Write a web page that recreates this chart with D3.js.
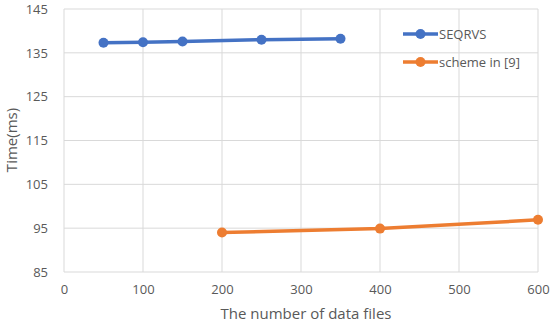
<!DOCTYPE html>
<html>
<head>
<meta charset="utf-8">
<script src="https://cdn.jsdelivr.net/npm/d3@7"></script>
<style>
  html, body { margin: 0; padding: 0; background: #fff; }
  svg { display: block; font-family: "Open Sans", sans-serif; }
</style>
</head>
<body>
<div id="chart"></div>
<script>
// ── data ──
const seqX     = [50, 100, 150, 250, 350];
const seqY     = [137.3, 137.4, 137.6, 138.0, 138.2];
const schemeX  = [200, 400, 600];
const schemeY  = [94.0, 94.9, 96.9];
const xTicks   = [0, 100, 200, 300, 400, 500, 600];
const yTicks   = [85, 95, 105, 115, 125, 135, 145];
const seriesNames = ['SEQRVS', 'scheme in [9]'];
const colors      = ['#4472C4', '#ED7D31'];

const W = 550, H = 324;
const svg = d3.select('#chart').append('svg').attr('width', W).attr('height', H);

const x = d3.scaleLinear().domain([0, 600]).range([64, 538]);
const y = d3.scaleLinear().domain([85, 145]).range([272, 9]);

// grid
const grid = svg.append('g');
grid.selectAll('line.h').data(yTicks).enter().append('line')
  .attr('x1', x(0)).attr('x2', x(600))
  .attr('y1', d => y(d)).attr('y2', d => y(d))
  .attr('stroke', '#d9d9d9').attr('stroke-width', 1);
grid.selectAll('line.v').data(xTicks).enter().append('line')
  .attr('y1', y(85)).attr('y2', y(145))
  .attr('x1', d => x(d)).attr('x2', d => x(d))
  .attr('stroke', '#d9d9d9').attr('stroke-width', 1);

// axes (labels only)
const xAxis = svg.append('g').attr('transform', `translate(0,${y(85)})`)
  .call(d3.axisBottom(x).tickValues(xTicks).tickSize(0).tickPadding(13));
const yAxis = svg.append('g').attr('transform', `translate(${x(0)},0)`)
  .call(d3.axisLeft(y).tickValues(yTicks).tickSize(0).tickPadding(16));
[xAxis, yAxis].forEach(a => {
  a.select('.domain').remove();
  a.selectAll('text').attr('fill', '#595959').style('font-size', '13px')
    .style('font-family', '"Open Sans", sans-serif');
});

// axis titles
svg.append('text').attr('x', 306).attr('y', 319).attr('text-anchor', 'middle')
  .attr('fill', '#595959').style('font-size', '15px').text('The number of data files');
svg.append('text').attr('transform', `translate(17,140) rotate(-90)`)
  .attr('text-anchor', 'middle').attr('fill', '#595959').style('font-size', '15px').text('Time(ms)');

// series
const series = [
  seqX.map((v, i) => [v, seqY[i]]),
  schemeX.map((v, i) => [v, schemeY[i]])
];
const line = d3.line().x(d => x(d[0])).y(d => y(d[1]));
series.forEach((pts, k) => {
  svg.append('path').datum(pts).attr('d', line)
    .attr('fill', 'none').attr('stroke', colors[k]).attr('stroke-width', 3.5);
  svg.selectAll(null).data(pts).enter().append('circle')
    .attr('cx', d => x(d[0])).attr('cy', d => y(d[1])).attr('r', 5)
    .attr('fill', colors[k]);
});

// legend
const leg = svg.append('g');
seriesNames.forEach((name, k) => {
  const ly = 34 + k * 28;
  leg.append('line').attr('x1', 403).attr('x2', 438).attr('y1', ly).attr('y2', ly)
    .attr('stroke', colors[k]).attr('stroke-width', 3.5);
  leg.append('circle').attr('cx', 420.5).attr('cy', ly).attr('r', 5).attr('fill', colors[k]);
  leg.append('text').attr('x', 439).attr('y', ly + 4.5).attr('fill', '#595959')
    .style('font-size', '13px').text(name);
});
</script>
</body>
</html>
